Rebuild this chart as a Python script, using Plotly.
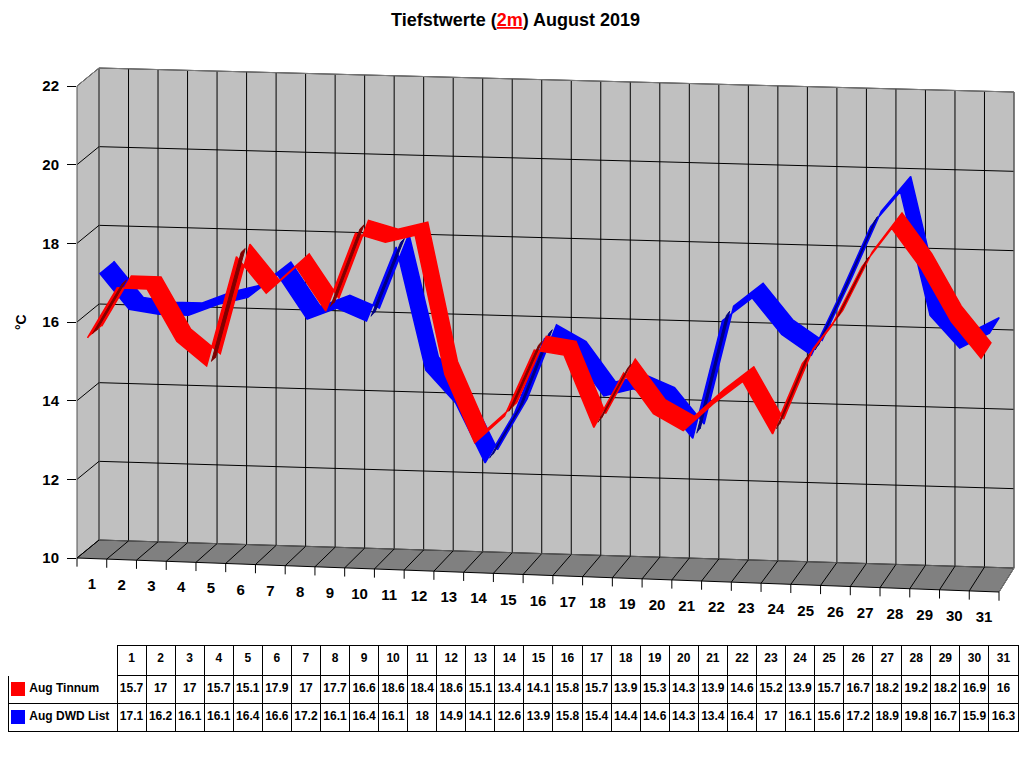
import plotly.graph_objects as go

# ---------------- data ----------------
days = list(range(1, 32))
day_labels = [str(d) for d in days]
tinnum = [15.7, 17, 17, 15.7, 15.1, 17.9, 17, 17.7, 16.6, 18.6, 18.4, 18.6, 15.1, 13.4, 14.1,
          15.8, 15.7, 13.9, 15.3, 14.3, 13.9, 14.6, 15.2, 13.9, 15.7, 16.7, 18.2, 19.2, 18.2, 16.9, 16]
dwd = [17.1, 16.2, 16.1, 16.1, 16.4, 16.6, 17.2, 16.1, 16.4, 16.1, 18, 14.9, 14.1, 12.6, 13.9,
       15.8, 15.4, 14.4, 14.6, 14.3, 13.4, 16.4, 17, 16.1, 15.6, 17.2, 18.9, 19.8, 16.7, 15.9, 16.3]
series_names = ["Aug Tinnum", "Aug DWD List"]
series_colors = ["#FF0000", "#0000FF"]
series_dark = ["#800000", "#000080"]
y_ticks = [10, 12, 14, 16, 18, 20, 22]
title_html = "<b>Tiefstwerte (<span style='color:#FF0000'><u>2m</u></span>) August 2019</b>"
unit_label = "°C"

# ---------------- perspective geometry (pixel space) ----------------
W, H = 1024, 768
VMIN, VMAX = y_ticks[0], y_ticks[-1]
A0, A1 = days[0] - 0.5, days[-1] + 0.5
FRONT = dict(bl=(77, 558), br=(999, 592), tl=(77, 86), tr=(999, 116))
BACK = dict(bl=(99, 540), br=(1014, 568), tl=(99, 68), tr=(1014, 92))
FONT = "Arial, Liberation Sans, sans-serif"
# depth (0 = front, 1 = back wall) of the front and back edge of each ribbon
RIBBON_DEPTH = {0: (-0.2, 0.45), 1: (0.35, 1.0)}
# b-offsets addressing depth planes inside a ribbon carpet (fraction of ribbon depth)
PLANE_OFFSETS = {0: 0.0, 100: 1.0, 200: 0.35, 300: 0.65}

# table geometry
TBL_X0, TBL_X1, TBL_Y0 = 8, 1018, 645
HDR_H, ROW_H, LBL_W = 30, 28, 109


def lerp(p, q, s):
    return (p[0] + (q[0] - p[0]) * s, p[1] + (q[1] - p[1]) * s)


def P(af, v, t):
    c = {k: lerp(FRONT[k], BACK[k], t) for k in FRONT}
    bot = lerp(c["bl"], c["br"], af)
    top = lerp(c["tl"], c["tr"], af)
    return lerp(bot, top, (v - VMIN) / (VMAX - VMIN))


def afrac(av):
    return (av - A0) / (A1 - A0)


def hidden_axis():
    return dict(showgrid=False, showticklabels="none", startline=False, endline=False,
                smoothing=0, showline=False)


def grid_axis(tick0, dtick, color="black", start=None, end=None):
    ax = dict(smoothing=0, tickmode="linear", tick0=tick0, dtick=dtick, showgrid=True,
              gridcolor=color, gridwidth=1, showticklabels="none", showline=False,
              startline=start is not None, endline=end is not None)
    if start is not None:
        ax.update(startlinecolor=start, startlinewidth=1)
    if end is not None:
        ax.update(endlinecolor=end, endlinewidth=1)
    return ax


def make_carpet(cid, a, b, fxy, aaxis=None, baxis=None):
    xs = [[fxy(ai, bj)[0] for ai in a] for bj in b]
    ys = [[fxy(ai, bj)[1] for ai in a] for bj in b]
    return go.Carpet(carpet=cid, a=a, b=b, x=xs, y=ys,
                     aaxis=aaxis or hidden_axis(), baxis=baxis or hidden_axis(),
                     xaxis="x", yaxis="y")


def plane(t):
    return lambda av, bv: P(afrac(av), bv, t)


def ribbon_plane(t_front, t_back):
    def f(av, bv):
        off = max(o for o in PLANE_OFFSETS if bv >= o + VMIN - 1e-9)
        t = t_front + (t_back - t_front) * PLANE_OFFSETS[off]
        return P(afrac(av), bv - off, t)
    return f


traces = []

# back wall grid
traces.append(make_carpet(
    "wall", [A0, A1], [VMIN, VMAX], plane(1.0),
    aaxis=grid_axis(A0, 1, start="#707070", end="#808080"),
    baxis=grid_axis(VMIN, 2, start="#606060", end="#808080")))

# side wall grid
traces.append(make_carpet(
    "side", [0, 1], [VMIN, VMAX], lambda av, bv: P(0, bv, av),
    aaxis=dict(smoothing=0, showgrid=False, showticklabels="none", showline=False,
               startline=True, startlinecolor="#505050", startlinewidth=1, endline=False),
    baxis=grid_axis(VMIN, 2, end="#808080")))

# floor grid
traces.append(make_carpet(
    "floor", [A0, A1], [0, 1], lambda av, bv: P(afrac(av), VMIN, bv),
    aaxis=grid_axis(A0, 1, end="#808080"),
    baxis=dict(smoothing=0, showgrid=False, showticklabels="none", showline=False,
               startline=True, startlinecolor="black", startlinewidth=1, endline=False)))

# tick marks below the front edge
traces.append(make_carpet(
    "ticks", [A0, A1], [VMIN - 0.22, VMIN], plane(0.0),
    aaxis=grid_axis(A0, 1), baxis=hidden_axis()))

# label plane for day labels
traces.append(make_carpet("labels", [A0, A1], [VMIN - 1, VMIN], plane(0.0)))

# ribbon carpets
rib_b = []
for off in sorted(PLANE_OFFSETS):
    rib_b += [VMIN + off, VMAX + off]
for s in (1, 0):
    tf, tb = RIBBON_DEPTH[s]
    traces.append(make_carpet(f"rib{s}", [A0, A1], rib_b, ribbon_plane(tf, tb)))


def flipped_segments(vals, s):
    """segments whose top face turns away from the viewer (underside visible)"""
    tf, tb = RIBBON_DEPTH[s]
    tm = (tf + tb) / 2
    out = []
    for i in range(len(vals) - 1):
        p0 = P(afrac(days[i]), vals[i], tm)
        p1 = P(afrac(days[i + 1]), vals[i + 1], tm)
        q0 = P(afrac(days[i]), vals[i], tb)
        sx, sy = p1[0] - p0[0], p1[1] - p0[1]
        dx, dy = q0[0] - p0[0], q0[1] - p0[1]
        if sx * dy - sy * dx > 0:
            out.append(i)
    return out


# ribbons (blue behind, red in front)
for s, vals in ((1, dwd), (0, tinnum)):
    col = series_colors[s]
    ra = days + days[::-1]
    rb = list(vals) + [v + 100 for v in vals[::-1]]
    traces.append(go.Scattercarpet(carpet=f"rib{s}", a=ra, b=rb, mode="lines",
                                   line=dict(color=col, width=1.5), fill="toself",
                                   fillcolor=col, hoverinfo="skip", showlegend=False,
                                   name=series_names[s]))
    da, db = [], []
    for i in flipped_segments(vals, s):
        da += [days[i], days[i + 1], days[i + 1], days[i], None]
        db += [vals[i] + 200, vals[i + 1] + 200, vals[i + 1] + 300, vals[i] + 300, None]
    if da:
        traces.append(go.Scattercarpet(carpet=f"rib{s}", a=da, b=db, mode="lines",
                                       line=dict(color=series_dark[s], width=1),
                                       fill="toself", fillcolor=series_dark[s],
                                       hoverinfo="skip", showlegend=False))

# day labels
traces.append(go.Scattercarpet(carpet="labels", a=days, b=[VMIN - 0.68] * len(days),
                               mode="text", text=day_labels,
                               textfont=dict(family=FONT, size=15, color="black", weight="bold"),
                               hoverinfo="skip", showlegend=False))

# dummy trace for the value axis
traces.append(go.Scatter(x=[1], y=[VMIN], xaxis="x2", yaxis="y2", mode="markers",
                         marker=dict(opacity=0), hoverinfo="skip", showlegend=False))


# data table
def fmt(v):
    return f"{v:g}"


NB = "\u00a0"
legend_cells = [NB * 4 + n.replace(" ", NB) for n in series_names]
cell_values = [legend_cells] + [[fmt(a), fmt(b)] for a, b in zip(tinnum, dwd)]
tbl_y1 = TBL_Y0 + HDR_H + ROW_H * len(series_names)
traces.append(go.Table(
    domain=dict(x=[TBL_X0 / W, TBL_X1 / W], y=[1 - (tbl_y1 + 4) / H, 1 - TBL_Y0 / H]),
    columnwidth=[LBL_W] + [(TBL_X1 - TBL_X0 - LBL_W) / len(days)] * len(days),
    header=dict(values=[""] + day_labels, height=HDR_H, align="center",
                fill=dict(color="white"),
                line=dict(color=["white"] + ["black"] * len(days), width=1),
                font=dict(family=FONT, size=12, color="black", weight="bold")),
    cells=dict(values=cell_values, height=ROW_H, align=["left"] + ["center"] * len(days),
               fill=dict(color="white"), line=dict(color="black", width=1),
               font=dict(family=FONT, size=12, color="black", weight="bold"))))

fig = go.Figure(traces)


def path(pts):
    return "M " + " L ".join(f"{x:.2f},{y:.2f}" for x, y in pts) + " Z"


shapes = [
    dict(type="path", xref="x", yref="y", layer="below", line=dict(width=0),
         fillcolor="#C0C0C0",
         path=path([P(0, VMIN, 1), P(1, VMIN, 1), P(1, VMAX, 1), P(0, VMAX, 1)])),
    dict(type="path", xref="x", yref="y", layer="below", line=dict(width=0),
         fillcolor="#C0C0C0",
         path=path([P(0, VMIN, 0), P(0, VMIN, 1), P(0, VMAX, 1), P(0, VMAX, 0)])),
    dict(type="path", xref="x", yref="y", layer="below", line=dict(width=0),
         fillcolor="#808080",
         path=path([P(0, VMIN, 0), P(1, VMIN, 0), P(1, VMIN, 1), P(0, VMIN, 1)])),
]
# legend squares inside the table's label column
for i, col in enumerate(series_colors):
    cy = TBL_Y0 + HDR_H + ROW_H * i + ROW_H / 2
    shapes.append(dict(type="rect", xref="x", yref="y", layer="above", line=dict(width=0),
                       fillcolor=col, x0=TBL_X0 + 3, x1=TBL_X0 + 17, y0=cy - 7, y1=cy + 7))

fig.update_layout(
    width=W, height=H, margin=dict(l=0, r=0, t=0, b=0, pad=0, autoexpand=False),
    paper_bgcolor="white", plot_bgcolor="rgba(0,0,0,0)", showlegend=False,
    font=dict(family=FONT, color="black"),
    xaxis=dict(range=[0, W], domain=[0, 1], visible=False, fixedrange=True),
    yaxis=dict(range=[H, 0], domain=[0, 1], visible=False, fixedrange=True),
    xaxis2=dict(domain=[FRONT["bl"][0] / W, 1], range=[0, 2], visible=False,
                anchor="y2", fixedrange=True),
    yaxis2=dict(domain=[1 - FRONT["bl"][1] / H, 1 - FRONT["tl"][1] / H], range=[VMIN, VMAX],
                anchor="x2", tickmode="array", tickvals=y_ticks, ticks="outside",
                ticklen=9, tickcolor="black", tickwidth=1, showgrid=False, zeroline=False,
                showline=False, fixedrange=True, automargin=False, ticklabelstandoff=5,
                tickfont=dict(family=FONT, size=15, color="black", weight="bold")),
    shapes=shapes,
    annotations=[
        dict(text=title_html, xref="paper", yref="paper", x=515 / W, y=1 - 20 / H,
             xanchor="center", yanchor="middle",
             showarrow=False, font=dict(family=FONT, size=18, color="black")),
        dict(text=f"<b>{unit_label}</b>", xref="paper", yref="paper", x=21 / W, y=1 - 322 / H,
             xanchor="center", yanchor="middle",
             showarrow=False, textangle=-90, font=dict(family=FONT, size=14, color="black")),
    ],
)

fig.write_html("out.html", config={"displayModeBar": False},
               post_script="document.body.style.margin='0';")
